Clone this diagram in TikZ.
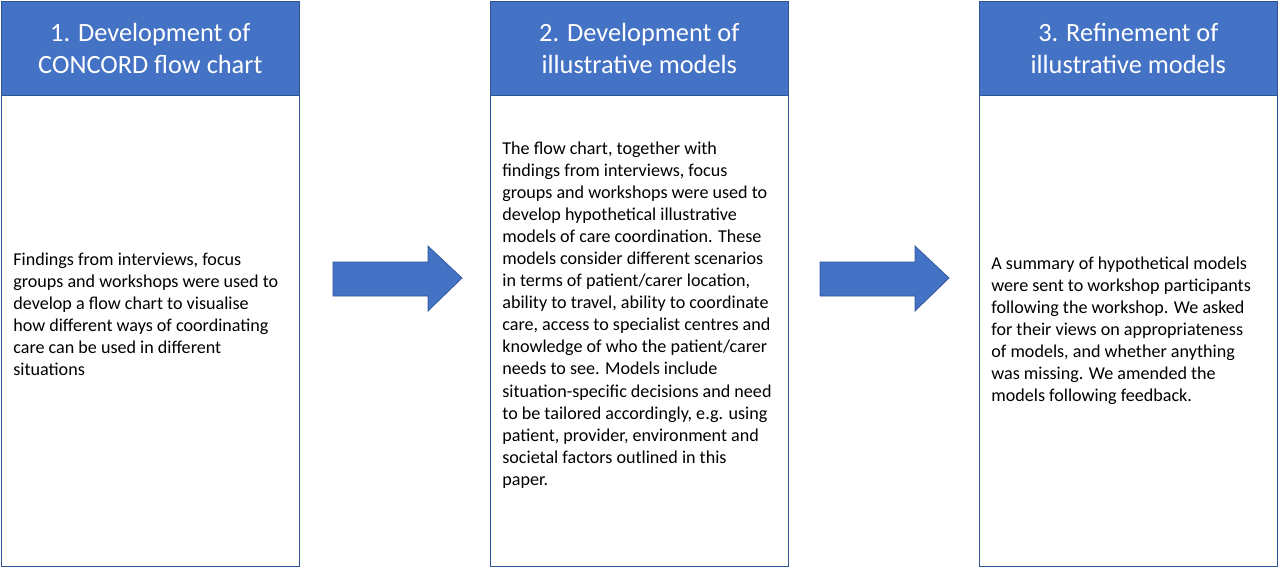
\documentclass[tikz,border=0pt]{standalone}
\usepackage{fontspec}
\setmainfont{Carlito}
\definecolor{hdrblue}{HTML}{4472C4}
\definecolor{edgeblue}{HTML}{2F5597}
\tikzset{
  header/.style={draw=edgeblue,fill=hdrblue,text=white,minimum width=5.96cm,minimum height=1.88cm,
    inner sep=0pt,align=center,font=\fontsize{15}{18}\selectfont,anchor=north west},
  body/.style={draw=edgeblue,fill=white,minimum width=5.96cm,minimum height=9.42cm,anchor=north west},
  bodytext/.style={align=left,inner sep=0pt,font=\fontsize{10.3}{12.55}\selectfont,anchor=west},
  stagearrow/.style={draw=edgeblue,fill=hdrblue}
}
\newcommand{\stagearrow}[1]{%
  \draw[stagearrow] (#1,262) -- ++(95,0) -- ++(0,-16) -- ++(34,32) -- ++(-34,33) -- ++(0,-15) -- ++(-95,0) -- cycle;}
\begin{document}
\begin{tikzpicture}[x=0.02cm,y=-0.02cm]
  \useasboundingbox (0,0) rectangle (1280,569);

  % boxes
  \node[body] (b1) at (1,95) {};
  \node[header] (h1) at (1,1) {1. Development of\\CONCORD flow chart};
  \node[body] (b2) at (490,95) {};
  \node[header] (h2) at (490,1) {2. Development of\\illustrative models};
  \node[body] (b3) at (979,95) {};
  \node[header] (h3) at (979,1) {3. Refinement of\\illustrative models};

  % texts
  \node[bodytext] (t1) at (13,314) {Findings from interviews, focus\\groups and workshops were used to\\develop a flow chart to visualise\\how different ways of coordinating\\care can be used in different\\situations};
  \node[bodytext] (t2) at (502,315) {The flow chart, together with\\findings from interviews, focus\\groups and workshops were used to\\develop hypothetical illustrative\\models of care coordination. These\\models consider different scenarios\\in terms of patient/carer location,\\ability to travel, ability to coordinate\\care, access to specialist centres and\\knowledge of who the patient/carer\\needs to see. Models include\\situation-specific decisions and need\\to be tailored accordingly, e.g. using\\patient, provider, environment and\\societal factors outlined in this\\paper.};
  \node[bodytext] (t3) at (991,331) {A summary of hypothetical models\\were sent to workshop participants\\following the workshop. We asked\\for their views on appropriateness\\of models, and whether anything\\was missing. We amended the\\models following feedback.};

  % arrows
  \stagearrow{333}
  \stagearrow{820}
\end{tikzpicture}
\end{document}
